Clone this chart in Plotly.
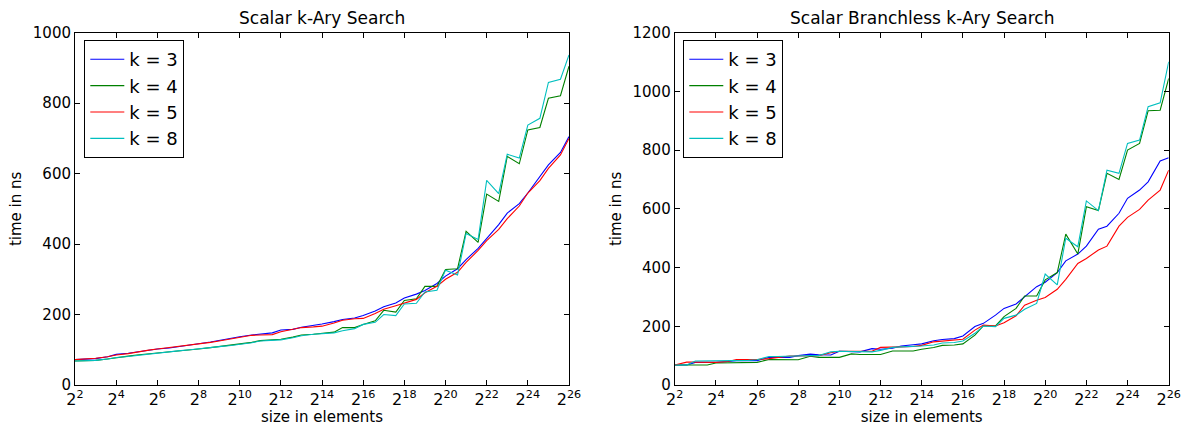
import plotly.graph_objects as go

sizes = [4, 6, 8, 12, 16, 24, 32, 48, 64, 96, 128, 192, 256, 384, 512, 768,
         1024, 1536, 2048, 3072, 4096, 6144, 8192, 12288, 16384, 24576, 32768,
         49152, 65536, 98304, 131072, 196608, 262144, 393216, 524288, 786432,
         1048576, 1572864, 2097152, 3145728, 4194304, 6291456, 8388608,
         12582912, 16777216, 25165824, 33554432, 50331648, 67108864]

labels = ["k = 3", "k = 4", "k = 5", "k = 8"]
colors = ["#0000ff", "#008000", "#ff0000", "#00bfbf"]

left_k3 = [72, 73, 75, 80, 87, 90, 94, 98, 102, 105, 109, 113, 117, 122, 127, 132,
           137, 142, 144, 148, 156, 158, 164, 169, 173, 180, 186, 190, 197, 210,
           222, 233, 247, 258, 268, 288, 309, 330, 356, 388, 417, 455, 488, 515,
           545, 590, 625, 660, 705]
left_k4 = [68, 69, 70, 74, 78, 82, 85, 88, 90, 94, 97, 100, 102, 106, 109, 112,
           115, 121, 126, 128, 130, 136, 142, 144, 146, 150, 163, 163, 172, 182,
           212, 207, 240, 245, 280, 280, 328, 330, 436, 405, 542, 521, 649, 628,
           724, 731, 814, 821, 905]
left_k5 = [72, 74, 76, 80, 85, 89, 94, 99, 102, 106, 109, 113, 117, 121, 125, 131,
           136, 141, 142, 143, 151, 157, 163, 165, 167, 176, 184, 188, 189, 203,
           215, 225, 233, 243, 262, 280, 300, 320, 348, 382, 410, 442, 472, 508,
           545, 580, 615, 653, 700]
left_k8 = [68, 69, 70, 74, 78, 81, 84, 87, 90, 94, 97, 100, 103, 106, 109, 112,
           115, 120, 125, 127, 128, 134, 140, 144, 146, 148, 154, 160, 172, 178,
           200, 197, 230, 232, 264, 269, 326, 312, 430, 413, 581, 543, 655, 644,
           738, 757, 859, 868, 937]

right_k3 = [68, 68, 77, 77, 77, 80, 83, 83, 83, 94, 94, 94, 100, 105, 103, 102,
            115, 113, 113, 124, 122, 125, 133, 137, 140, 151, 155, 158, 167, 199,
            210, 238, 261, 276, 301, 335, 350, 383, 423, 446, 473, 531, 541, 585,
            636, 664, 692, 763, 774]
right_k4 = [68, 68, 68, 68, 75, 76, 76, 76, 77, 87, 87, 86, 86, 98, 94, 94,
            94, 106, 104, 104, 104, 116, 116, 116, 122, 128, 135, 136, 140, 170,
            202, 201, 233, 261, 303, 303, 358, 383, 514, 446, 607, 594, 721, 700,
            800, 823, 934, 936, 1044]
right_k5 = [68, 78, 78, 78, 77, 80, 87, 87, 87, 90, 93, 99, 99, 100, 100, 110,
            115, 115, 115, 115, 128, 128, 130, 131, 135, 147, 150, 152, 156, 187,
            204, 201, 212, 236, 272, 289, 298, 326, 360, 414, 431, 460, 473, 541,
            571, 598, 630, 664, 732]
right_k8 = [68, 68, 82, 82, 82, 82, 82, 84, 86, 97, 97, 99, 99, 100, 100, 113,
            115, 115, 113, 113, 118, 128, 130, 131, 133, 136, 143, 145, 150, 176,
            201, 199, 227, 238, 258, 278, 378, 341, 500, 471, 627, 594, 732, 721,
            823, 834, 948, 961, 1101]

titles = ["Scalar k-Ary Search", "Scalar Branchless k-Ary Search"]
x_title = "size in elements"
y_title = "time in ns"
tick_exps = [2, 4, 6, 8, 10, 12, 14, 16, 18, 20, 22, 24, 26]

FONT = "DejaVu Sans"
W, H = 1183, 426

fig = go.Figure()

left = [left_k3, left_k4, left_k5, left_k8]
right = [right_k3, right_k4, right_k5, right_k8]

for i in range(4):
    fig.add_trace(go.Scatter(x=sizes, y=left[i], mode="lines", name=labels[i],
                             line=dict(color=colors[i], width=1.1),
                             xaxis="x", yaxis="y", legend="legend"))
for i in range(4):
    fig.add_trace(go.Scatter(x=sizes, y=right[i], mode="lines", name=labels[i],
                             line=dict(color=colors[i], width=1.1),
                             xaxis="x2", yaxis="y2", legend="legend2"))

def px_x(p):
    return p / W

def px_y(p):
    return 1 - p / H

ydom = [px_y(385), px_y(32.7)]
tickvals = [2 ** e for e in tick_exps]
ticktext = ["2<sup>%d</sup>" % e for e in tick_exps]

xcommon = dict(type="log", range=[0.60206, 26 * 0.30103], tickvals=tickvals,
               ticktext=ticktext, ticks="inside", ticklen=5, tickwidth=1,
               tickcolor="black", showline=True, linecolor="black", linewidth=1,
               mirror="allticks", showgrid=False, zeroline=False, automargin=False,
               tickfont=dict(family=FONT, size=16, color="black"),
               title=dict(text=x_title, font=dict(family=FONT, size=15, color="black"),
                          standoff=2))
ycommon = dict(ticks="inside", ticklen=5, tickwidth=1, tickcolor="black",
               showline=True, linecolor="black", linewidth=1, mirror="allticks",
               showgrid=False, zeroline=False, domain=ydom, automargin=False,
               tickfont=dict(family=FONT, size=15, color="black"),
               title=dict(text=y_title, font=dict(family=FONT, size=15, color="black"),
                          standoff=7))

legend_common = dict(xanchor="left", yanchor="top", bordercolor="black",
                     borderwidth=1, bgcolor="white",
                     font=dict(family=FONT, size=18, color="black"),
                     tracegroupgap=0, itemwidth=34)

fig.update_layout(
    width=W, height=H,
    margin=dict(l=0, r=0, t=0, b=0, autoexpand=False),
    plot_bgcolor="white", paper_bgcolor="white",
    font=dict(family=FONT, color="black"),
    xaxis=dict(xcommon, domain=[px_x(75), px_x(569)], anchor="y"),
    yaxis=dict(ycommon, range=[0, 1000], dtick=200, anchor="x"),
    xaxis2=dict(xcommon, domain=[px_x(674.7), px_x(1168.7)], anchor="y2"),
    yaxis2=dict(ycommon, range=[0, 1200], dtick=200, anchor="x2"),
    legend=dict(legend_common, x=px_x(84.3), y=px_y(40)),
    legend2=dict(legend_common, x=px_x(683.3), y=px_y(40)),
    annotations=[
        dict(text=titles[0], x=(px_x(75) + px_x(569)) / 2, y=px_y(18),
             xref="paper", yref="paper", showarrow=False, xanchor="center",
             yanchor="middle", font=dict(family=FONT, size=17, color="black")),
        dict(text=titles[1], x=(px_x(674.7) + px_x(1168.7)) / 2, y=px_y(18),
             xref="paper", yref="paper", showarrow=False, xanchor="center",
             yanchor="middle", font=dict(family=FONT, size=17, color="black")),
    ],
)

fig.write_html(
    "out.html",
    config={"displayModeBar": False},
    post_script="document.body.style.margin='0';document.body.style.padding='0';"
                "document.body.style.overflow='hidden';",
)
